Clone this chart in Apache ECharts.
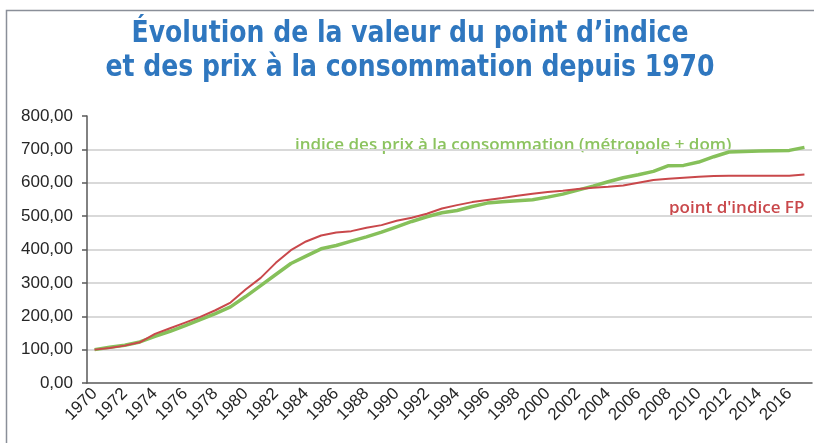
<!DOCTYPE html>
<html>
<head>
<meta charset="utf-8">
<script src="https://cdn.jsdelivr.net/npm/echarts@6/dist/echarts.min.js"></script>
<style>
  html, body { margin: 0; padding: 0; background: #fff; }
  #chart { width: 814px; height: 443px; }
</style>
</head>
<body>
<div id="chart"></div>
<script>
// années 1970 -> 2017
const years = []
for (let y = 1970; y <= 2017; y++) years.push(String(y))

// indice des prix à la consommation (base 100 en 1970)
const prix = [
  100, 107, 113, 123, 140, 155, 172, 190, 208, 228,
  259, 292, 325, 358, 380, 402, 412, 425, 438, 452,
  468, 484, 498, 510, 517, 529, 539, 543, 546, 549,
  557, 566, 578, 590, 603, 615, 624, 634, 651, 652,
  662, 678, 692, 694, 695, 696, 697, 706
]

// valeur du point d'indice FP (base 100 en 1970)
const point = [
  100, 105, 112, 122, 147, 164, 181, 198, 218, 241,
  280, 315, 360, 398, 424, 442, 451, 455, 465, 473,
  486, 495, 507, 523, 533, 542, 548, 554, 561, 567,
  572, 576, 581, 585, 588, 592, 600, 608, 612, 615,
  618, 620, 621, 621, 621, 621, 621, 625
]

const chart = echarts.init(document.getElementById('chart'))

chart.setOption({
  backgroundColor: '#fff',
  animation: false,
  grid: {
    left: 87,
    right: 2,
    top: 116,
    height: 267
  },
  xAxis: {
    type: 'category',
    data: years,
    boundaryGap: true,
    axisLine: { lineStyle: { color: '#595959', width: 1.5 } },
    axisTick: { interval: 0, length: 5, lineStyle: { color: '#595959', width: 1.5 } },
    axisLabel: {
      interval: 1,
      rotate: 45,
      margin: 8,
      color: '#262626',
      fontFamily: 'Liberation Sans, Arial, sans-serif',
      fontSize: 17
    }
  },
  yAxis: {
    type: 'value',
    min: 0,
    max: 800,
    interval: 100,
    axisLine: { show: true, lineStyle: { color: '#595959', width: 1.5 } },
    axisTick: { show: true, length: 5, lineStyle: { color: '#595959', width: 1.5 } },
    axisLabel: {
      margin: 14,
      color: '#262626',
      fontFamily: 'Liberation Sans, Arial, sans-serif',
      fontSize: 17,
      formatter: v => v.toFixed(2).replace('.', ',')
    },
    splitLine: {
      lineStyle: {
        color: ['transparent', '#d9d9d9', '#d9d9d9', '#d9d9d9', '#d9d9d9', '#d9d9d9', '#d9d9d9', '#d9d9d9', 'transparent'],
        width: 2
      }
    }
  },
  series: [
    {
      name: 'indice des prix à la consommation',
      type: 'line',
      data: prix,
      showSymbol: false,
      lineStyle: { color: '#86c05a', width: 3.5 },
      z: 2
    },
    {
      name: "point d'indice FP",
      type: 'line',
      data: point,
      showSymbol: false,
      lineStyle: { color: '#c9484b', width: 2 },
      z: 3
    }
  ],
  graphic: [
    // cadre gris
    {
      type: 'polyline',
      shape: { points: [[6.5, 443], [6.5, 10.5], [814, 10.5]] },
      style: { stroke: '#8a8f99', lineWidth: 1.5, fill: null },
      silent: true
    },
    // titre (police resserrée)
    {
      type: 'text',
      x: 410,
      y: 17,
      scaleX: 0.9,
      style: {
        text: 'Évolution de la valeur du point d’indice\net des prix à la consommation depuis 1970',
        fill: '#2f77bf',
        font: 'bold 31px "Liberation Sans Narrow", "DejaVu Sans Condensed", sans-serif',
        align: 'center',
        verticalAlign: 'top',
        lineHeight: 34
      }
    },
    {
      type: 'text',
      left: 295,
      top: 137,
      style: {
        text: 'indice des prix à la consommation (métropole + dom)',
        fill: '#8cc35f',
        font: '600 17px "Open Sans", sans-serif'
      }
    },
    {
      type: 'text',
      left: 669,
      top: 200,
      style: {
        text: "point d'indice FP",
        fill: '#c9484b',
        font: '600 17px "Open Sans", sans-serif'
      }
    }
  ]
})
</script>
</body>
</html>
